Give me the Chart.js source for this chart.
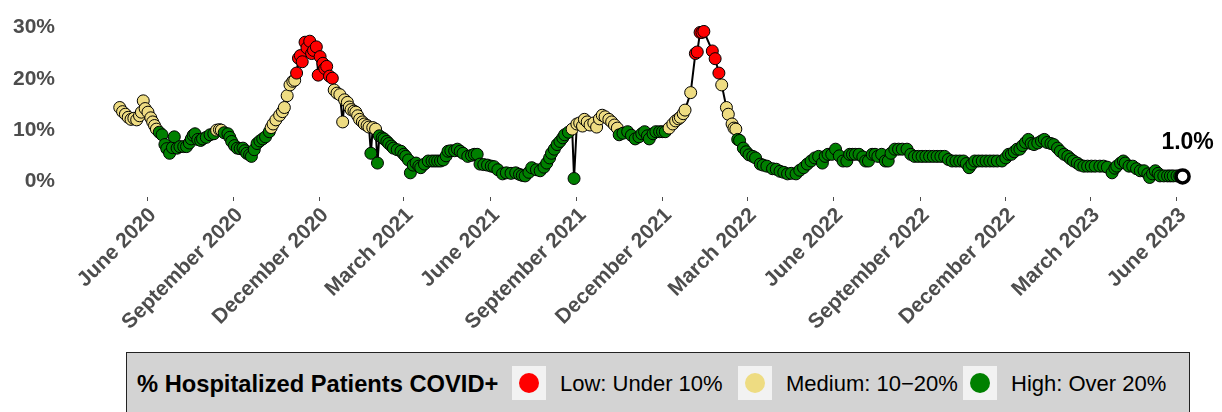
<!DOCTYPE html>
<html>
<head>
<meta charset="utf-8">
<script src="https://cdn.jsdelivr.net/npm/chart.js@4.4.0/dist/chart.umd.min.js"></script>
<style>
  html, body { margin: 0; padding: 0; background: #fff; }
  #wrap { position: relative; width: 1222px; height: 412px; overflow: hidden; font-family: "Liberation Sans", Arial, sans-serif; }
  #chart { position: absolute; left: 0; top: 0; }
  #legend { position: absolute; left: 126px; top: 352px; width: 1064px; height: 80px; background: #d3d3d3; border: 1.5px solid #222; box-sizing: border-box; }
  #legend .t { position: absolute; top: 31px; transform: translateY(-50%); white-space: nowrap; color: #000; font-size: 22px; }
  #legend .title { font-weight: bold; font-size: 23.7px; }
  #legend .key { position: absolute; top: 13px; width: 34px; height: 34px; background: #f2f2f2; }
  #legend .key span { position: absolute; left: 7px; top: 7px; width: 20px; height: 20px; border-radius: 50%; }
</style>
</head>
<body>
<div id="wrap">
  <canvas id="chart" width="1222" height="412"></canvas>
  <div id="legend"></div>
</div>
<script>
// 入院患者に占めるCOVID陽性の割合（%）
const dates = [
  '2020-05-03','2020-05-06','2020-05-09','2020-05-12','2020-05-15','2020-05-18','2020-05-21','2020-05-24','2020-05-26','2020-05-28',
  '2020-05-30','2020-06-02','2020-06-05','2020-06-07','2020-06-09','2020-06-11','2020-06-14','2020-06-17','2020-06-20','2020-06-22',
  '2020-06-25','2020-06-28','2020-06-30','2020-07-03','2020-07-06','2020-07-10','2020-07-13','2020-07-16','2020-07-18','2020-07-20',
  '2020-07-22','2020-07-25','2020-07-28','2020-07-30','2020-08-03','2020-08-07','2020-08-11','2020-08-14','2020-08-17','2020-08-19',
  '2020-08-22','2020-08-26','2020-08-28','2020-08-30','2020-09-02','2020-09-05','2020-09-08','2020-09-11','2020-09-13','2020-09-15',
  '2020-09-18','2020-09-20','2020-09-23','2020-09-26','2020-09-29','2020-10-02','2020-10-05','2020-10-09','2020-10-11','2020-10-13',
  '2020-10-16','2020-10-20','2020-10-23','2020-10-25','2020-10-28','2020-10-31','2020-11-03','2020-11-05','2020-11-07','2020-11-09',
  '2020-11-11','2020-11-13','2020-11-16','2020-11-18','2020-11-21','2020-11-23','2020-11-25','2020-11-28','2020-11-30','2020-12-02',
  '2020-12-05','2020-12-07','2020-12-09','2020-12-12','2020-12-15','2020-12-17','2020-12-20','2020-12-23','2020-12-26','2020-12-28',
  '2020-12-31','2021-01-02','2021-01-04','2021-01-07','2021-01-09','2021-01-11','2021-01-13','2021-01-16','2021-01-18','2021-01-21',
  '2021-01-23','2021-01-25','2021-01-27','2021-01-30','2021-02-01','2021-02-03','2021-02-06','2021-02-08','2021-02-11','2021-02-13',
  '2021-02-16','2021-02-18','2021-02-22','2021-02-26','2021-03-01','2021-03-03','2021-03-06','2021-03-08','2021-03-11','2021-03-14',
  '2021-03-17','2021-03-19','2021-03-23','2021-03-27','2021-03-31','2021-04-03','2021-04-06','2021-04-09','2021-04-12','2021-04-15',
  '2021-04-17','2021-04-20','2021-04-24','2021-04-27','2021-04-30','2021-05-03','2021-05-08','2021-05-12','2021-05-15','2021-05-18',
  '2021-05-21','2021-05-25','2021-05-29','2021-06-02','2021-06-05','2021-06-09','2021-06-14','2021-06-18','2021-06-23','2021-06-28',
  '2021-07-02','2021-07-05','2021-07-08','2021-07-12','2021-07-15','2021-07-20','2021-07-24','2021-07-28','2021-07-31','2021-08-03',
  '2021-08-05','2021-08-08','2021-08-11','2021-08-14','2021-08-17','2021-08-19','2021-08-23','2021-08-27','2021-08-29','2021-09-01',
  '2021-09-04','2021-09-07','2021-09-09','2021-09-12','2021-09-15','2021-09-19','2021-09-22','2021-09-25','2021-09-28','2021-10-01',
  '2021-10-05','2021-10-08','2021-10-11','2021-10-14','2021-10-16','2021-10-20','2021-10-25','2021-10-29','2021-11-02','2021-11-06',
  '2021-11-09','2021-11-12','2021-11-15','2021-11-17','2021-11-21','2021-11-24','2021-11-28','2021-12-01','2021-12-04','2021-12-08',
  '2021-12-12','2021-12-15','2021-12-18','2021-12-20','2021-12-23','2021-12-25','2021-12-31','2022-01-05','2022-01-07','2022-01-10',
  '2022-01-12','2022-01-14','2022-01-23','2022-01-26','2022-01-30','2022-02-02','2022-02-07','2022-02-09','2022-02-13','2022-02-15',
  '2022-02-17','2022-02-19','2022-02-21','2022-02-25','2022-02-28','2022-03-03','2022-03-07','2022-03-10','2022-03-15','2022-03-18',
  '2022-03-22','2022-03-28','2022-04-01','2022-04-05','2022-04-09','2022-04-13','2022-04-17','2022-04-22','2022-04-26','2022-04-30',
  '2022-05-04','2022-05-08','2022-05-12','2022-05-16','2022-05-20','2022-05-23','2022-05-26','2022-05-30','2022-06-03','2022-06-07',
  '2022-06-11','2022-06-15','2022-06-18','2022-06-21','2022-06-24','2022-06-28','2022-07-02','2022-07-05','2022-07-08','2022-07-12',
  '2022-07-15','2022-07-18','2022-07-22','2022-07-26','2022-07-29','2022-08-01','2022-08-05','2022-08-09','2022-08-13','2022-08-18',
  '2022-08-22','2022-08-26','2022-08-30','2022-09-03','2022-09-07','2022-09-11','2022-09-15','2022-09-19','2022-09-23','2022-09-27',
  '2022-10-01','2022-10-05','2022-10-09','2022-10-13','2022-10-17','2022-10-20','2022-10-23','2022-10-26','2022-10-29','2022-11-02',
  '2022-11-06','2022-11-10','2022-11-14','2022-11-18','2022-11-22','2022-11-27','2022-12-01','2022-12-04','2022-12-07','2022-12-10',
  '2022-12-13','2022-12-16','2022-12-19','2022-12-22','2022-12-25','2022-12-28','2022-12-31','2023-01-04','2023-01-08','2023-01-11',
  '2023-01-14','2023-01-18','2023-01-21','2023-01-25','2023-01-28','2023-02-01','2023-02-05','2023-02-08','2023-02-11','2023-02-15',
  '2023-02-18','2023-02-22','2023-02-26','2023-03-02','2023-03-06','2023-03-11','2023-03-15','2023-03-19','2023-03-24','2023-03-27',
  '2023-03-29','2023-04-02','2023-04-05','2023-04-07','2023-04-11','2023-04-15','2023-04-19','2023-04-23','2023-04-27','2023-05-01',
  '2023-05-03','2023-05-06','2023-05-09','2023-05-12','2023-05-14','2023-05-18','2023-05-22','2023-05-25','2023-05-28','2023-06-01',
  '2023-06-04','2023-06-07'
];
const values = [
  14.4,13.6,13.1,12.5,12.1,12.3,12.0,12.8,13.5,15.7,
  14.2,13.5,12.4,11.6,10.9,10.2,9.6,9.1,7.2,6.4,
  5.5,6.6,8.7,6.5,6.8,6.8,6.8,7.5,8.3,9.0,
  9.3,8.2,8.0,8.3,8.6,9.1,9.3,10.0,10.1,10.0,
  9.5,9.3,8.6,7.8,7.0,6.5,6.4,6.5,6.0,5.5,
  5.2,4.9,6.2,7.4,7.9,8.3,8.7,9.7,10.5,11.2,
  12.0,12.9,13.6,14.4,16.7,18.8,19.5,19.7,21.1,24.0,
  24.5,23.3,27.1,26.0,27.3,24.9,25.5,26.2,20.7,24.3,
  23.0,22.0,22.4,20.5,20.1,17.8,17.2,16.9,11.6,15.9,
  15.4,14.5,14.0,13.7,13.5,12.8,12.1,11.6,11.2,10.9,
  10.6,5.5,10.5,10.2,3.6,8.9,8.5,8.3,7.8,7.4,
  6.9,6.5,6.2,5.9,5.3,4.9,4.2,1.7,3.2,3.6,
  3.0,2.7,3.4,4.0,4.0,4.0,4.0,4.0,4.2,5.0,
  5.9,6.0,6.0,6.3,5.9,5.5,4.9,5.1,5.3,5.3,
  3.4,3.3,3.2,3.0,2.9,2.3,1.5,1.7,1.6,1.7,
  1.4,1.2,1.1,1.8,2.7,2.3,2.1,2.8,3.6,4.6,
  5.5,6.3,7.2,7.8,8.5,9.1,9.6,10.2,0.6,11.2,
  11.4,10.8,12.1,11.6,11.0,11.4,10.6,12.2,12.9,12.6,
  12.1,11.6,11.0,10.4,9.1,9.4,9.7,9.0,8.3,8.7,
  9.3,9.7,8.9,8.3,9.3,9.7,9.7,9.7,9.7,10.4,
  11.2,11.8,12.2,12.5,13.2,13.9,17.3,24.9,25.2,29.0,
  29.0,29.2,25.4,23.9,21.1,18.8,14.4,13.1,11.2,10.4,
  10.2,8.2,8.0,6.5,5.8,5.2,4.9,4.6,3.4,3.2,
  3.0,2.5,2.4,2.0,1.8,1.5,1.6,1.5,2.2,2.7,
  3.4,4.0,4.6,4.9,3.6,4.9,5.3,5.3,6.3,5.0,
  4.0,4.0,5.3,5.3,5.3,5.3,4.8,4.0,4.0,5.3,
  5.3,4.9,5.3,4.0,4.0,5.5,6.3,6.3,6.3,6.3,
  5.3,4.9,4.9,4.9,4.9,4.9,4.9,4.9,4.9,4.9,
  4.3,4.0,4.0,4.0,4.0,3.5,2.7,3.4,4.0,4.0,
  4.0,4.0,4.0,4.0,4.0,4.0,4.6,5.3,5.3,5.8,
  6.3,6.3,7.0,7.6,8.2,7.4,7.2,7.5,7.9,8.2,
  7.6,7.4,7.2,6.5,5.9,5.3,4.9,4.4,4.0,3.6,
  3.2,3.0,3.0,3.0,3.0,3.0,3.0,2.8,1.7,2.6,
  3.0,3.6,4.0,3.6,3.0,3.0,2.5,2.1,2.1,1.5,
  0.8,1.5,2.1,1.6,1.1,1.1,1.1,1.1,1.1,1.1,
  1.1,1.0
];

const tickDates = ['2020-06-01','2020-09-01','2020-12-01','2021-03-01','2021-06-01','2021-09-01','2021-12-01',
                   '2022-03-01','2022-06-01','2022-09-01','2022-12-01','2023-03-01','2023-06-01'];
const tickLabels = ['June 2020','September 2020','December 2020','March 2021','June 2021','September 2021','December 2021',
                    'March 2022','June 2022','September 2022','December 2022','March 2023','June 2023'];
const yTicks = [0, 10, 20, 30];

const legendTitle = '% Hospitalized Patients COVID+';
const legendNames = ['Low: Under 10%', 'Medium: 10\u221220%', 'High: Over 20%'];
const legendColors = ['#ff0000', '#eedc82', '#008000'];
const lastLabel = '1.0%';

// 日付を2020年6月1日からの日数に変換
const origin = Date.UTC(2020, 5, 1);
function dayNum(s) {
  const p = s.split('-').map(Number);
  return (Date.UTC(p[0], p[1] - 1, p[2]) - origin) / 86400000;
}

function levelColor(v) {
  if (v > 20) return legendColors[0];
  if (v >= 10) return legendColors[1];
  return legendColors[2];
}

const points = dates.map((d, i) => ({ x: dayNum(d), y: values[i] }));
const lastIdx = points.length - 1;

const fontFam = '"Liberation Sans", Arial, sans-serif';

// 最後の点の上に値を表示する
const endLabel = {
  id: 'endLabel',
  afterDatasetsDraw(chart) {
    const meta = chart.getDatasetMeta(0);
    const pt = meta.data[lastIdx];
    const c = chart.ctx;
    c.save();
    c.font = 'bold 23px ' + fontFam;
    c.fillStyle = '#000';
    c.textAlign = 'center';
    c.textBaseline = 'middle';
    c.fillText(lastLabel, pt.x + 5, pt.y - 34);
    c.restore();
  }
};

const ctx = document.getElementById('chart').getContext('2d');
new Chart(ctx, {
  type: 'line',
  data: {
    datasets: [{
      data: points,
      borderColor: '#000',
      borderWidth: 2,
      tension: 0,
      clip: false,
      pointRadius: c => c.dataIndex === lastIdx ? 6.5 : 6,
      pointBorderWidth: c => c.dataIndex === lastIdx ? 3.5 : 1,
      pointBorderColor: '#000',
      pointBackgroundColor: c => c.dataIndex === lastIdx ? '#fff' : levelColor(c.raw.y)
    }]
  },
  options: {
    responsive: false,
    animation: false,
    events: [],
    layout: { padding: { top: 15, right: 22, left: 0, bottom: 0 } },
    plugins: {
      legend: { display: false },
      tooltip: { enabled: false }
    },
    scales: {
      x: {
        type: 'linear',
        min: -90.4,
        max: 1119.5,
        afterBuildTicks: s => { s.ticks = tickDates.map(d => ({ value: dayNum(d) })); },
        afterFit: s => { s.height = 215; },
        ticks: {
          autoSkip: false,
          minRotation: 45,
          maxRotation: 45,
          padding: 2,
          labelOffset: 6,
          color: '#4d4d4d',
          font: { family: fontFam, size: 21, weight: 'bold' },
          callback: (v, i) => tickLabels[i]
        },
        grid: { drawOnChartArea: false, tickLength: 4, color: '#4d4d4d' },
        border: { display: false }
      },
      y: {
        min: -3,
        max: 31.5,
        afterBuildTicks: s => { s.ticks = yTicks.map(v => ({ value: v })); },
        afterFit: s => { s.width = 62; },
        ticks: {
          padding: 7,
          color: '#4d4d4d',
          font: { family: fontFam, size: 21, weight: 'bold' },
          callback: v => v + '%'
        },
        grid: { display: false, drawTicks: false },
        border: { display: false }
      }
    }
  },
  plugins: [endLabel]
});

// 凡例（HTMLで描く）
const lg = document.getElementById('legend');
const titleEl = document.createElement('div');
titleEl.className = 't title';
titleEl.style.left = '10px';
titleEl.textContent = legendTitle;
lg.appendChild(titleEl);
const keyLeft = [385, 611, 836];
legendNames.forEach((name, i) => {
  const k = document.createElement('div');
  k.className = 'key';
  k.style.left = keyLeft[i] + 'px';
  const dot = document.createElement('span');
  dot.style.background = legendColors[i];
  k.appendChild(dot);
  lg.appendChild(k);
  const t = document.createElement('div');
  t.className = 't';
  t.style.left = (keyLeft[i] + 48) + 'px';
  t.textContent = name;
  lg.appendChild(t);
});
</script>
</body>
</html>
